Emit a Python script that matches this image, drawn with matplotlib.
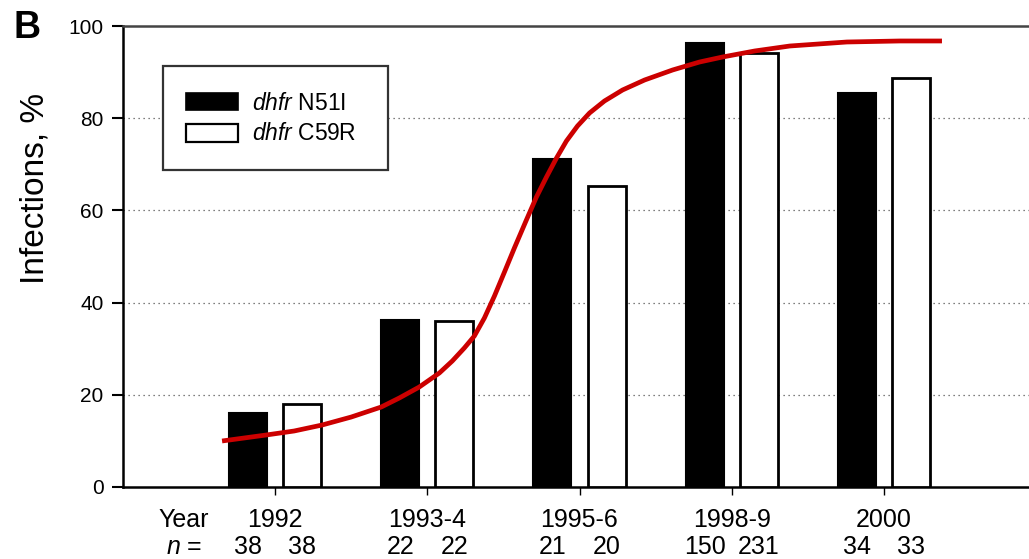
import matplotlib
matplotlib.use("Agg")
import matplotlib.pyplot as plt
import numpy as np
from matplotlib.patches import Rectangle
from matplotlib import transforms

plt.rcParams['font.family'] = ['Liberation Sans', 'DejaVu Sans']
plt.rcParams['mathtext.fontset'] = 'custom'
plt.rcParams['mathtext.it'] = 'Liberation Sans:italic'
plt.rcParams['mathtext.rm'] = 'Liberation Sans'

years = ["1992", "1993-4", "1995-6", "1998-9", "2000"]
n51i = [16.0, 36.2, 71.1, 96.3, 85.5]
c59r = [18.0, 36.0, 65.3, 94.1, 88.7]
n_n51i = ["38", "22", "21", "150", "34"]
n_c59r = ["38", "22", "20", "231", "33"]
legend_labels = [r"$\it{dhfr}$ N51I", r"$\it{dhfr}$ C59R"]

# fitted curve (x in category units, y in %)
curve_x = [-0.349, -0.204, -0.059, 0.125, 0.309, 0.500, 0.697, 0.816, 0.947,
           1.079, 1.164, 1.243, 1.309, 1.375, 1.441, 1.507, 1.572, 1.651,
           1.717, 1.783, 1.849, 1.914, 1.987, 2.066, 2.164, 2.283, 2.428,
           2.612, 2.789, 2.941, 3.151, 3.382, 3.757, 4.105, 4.382]
curve_y = [9.98, 10.63, 11.28, 12.15, 13.45, 15.18, 17.35, 19.31, 21.69,
           24.73, 27.33, 30.15, 32.75, 36.66, 41.43, 46.64, 51.84, 57.92,
           62.91, 67.25, 71.37, 75.05, 78.31, 81.13, 83.73, 86.12, 88.29,
           90.46, 92.19, 93.28, 94.58, 95.66, 96.53, 96.75, 96.75]

W, H = 1029, 559
fig = plt.figure(figsize=(W / 100, H / 100), dpi=100)
ax = fig.add_axes([123 / W, 72 / H, (1036 - 123) / W, (487 - 26) / H])

x = np.arange(len(years))
w = 0.25
off = 0.178
ax.bar(x - off, n51i, width=w, color='black', edgecolor='black', linewidth=1.5, zorder=3)
ax.bar(x + off, c59r, width=w, color='white', edgecolor='black', linewidth=2, zorder=3)

ax.plot(curve_x, curve_y, color='#cc0000', linewidth=3.4, zorder=4,
        solid_capstyle='butt', solid_joinstyle='round')

ax.set_xlim(-1, 5)
ax.set_ylim(0, 100)
ax.set_yticks([0, 20, 40, 60, 80, 100])
ax.tick_params(axis='y', labelsize=15, length=8, width=1.5, direction='out', pad=6)
ax.set_xticks(x)
ax.set_xticklabels([""] * len(years))
ax.tick_params(axis='x', length=6, width=1, direction='out')

for yv in [20, 40, 60, 80]:
    ax.axhline(yv, color='#555555', linestyle=(0, (1, 3)), linewidth=0.9, zorder=1)

for s in ['left', 'bottom']:
    ax.spines[s].set_linewidth(1.8)
ax.spines['top'].set_linewidth(1.8)
ax.spines['top'].set_color('#444444')
ax.spines['right'].set_visible(False)

fig.text(35 / W, 1 - 188 / H, "Infections, %", fontsize=24, rotation=90,
         ha='center', va='center')

trans = transforms.blended_transform_factory(ax.transData, ax.transAxes)
yr_y = (487 - 520) / 461
n_y = (487 - 547) / 461
for i in range(len(years)):
    ax.text(i, yr_y, years[i], transform=trans, ha='center', va='center', fontsize=18)
    ax.text(i - off, n_y, n_n51i[i], transform=trans, ha='center', va='center', fontsize=18)
    ax.text(i + off, n_y, n_c59r[i], transform=trans, ha='center', va='center', fontsize=18)
ax.text(-0.6, yr_y, "Year", transform=trans, ha='center', va='center', fontsize=18)
ax.text(-0.6, n_y, r"$\it{n}$ =", transform=trans, ha='center', va='center', fontsize=18)

fig.text(13 / W, 1 - 28 / H, "B", fontsize=27, fontweight='bold', va='center', ha='left')

# legend drawn manually
def fr(x0, y0, x1, y1, **kw):
    return Rectangle((x0 / W, 1 - y1 / H), (x1 - x0) / W, (y1 - y0) / H,
                     transform=fig.transFigure, **kw)

fig.add_artist(fr(163, 66, 388, 170, facecolor='white', edgecolor='#333333', linewidth=1.6, zorder=5))
fig.add_artist(fr(186, 93, 238, 110, facecolor='black', edgecolor='black', linewidth=1.2, zorder=6))
fig.add_artist(fr(186, 124, 238, 142, facecolor='white', edgecolor='black', linewidth=1.6, zorder=6))
fig.text(252 / W, 1 - 110 / H, legend_labels[0], fontsize=16.5, ha='left', va='baseline', zorder=7)
fig.text(252 / W, 1 - 140 / H, legend_labels[1], fontsize=16.5, ha='left', va='baseline', zorder=7)

fig.savefig("out.png", dpi=100)
